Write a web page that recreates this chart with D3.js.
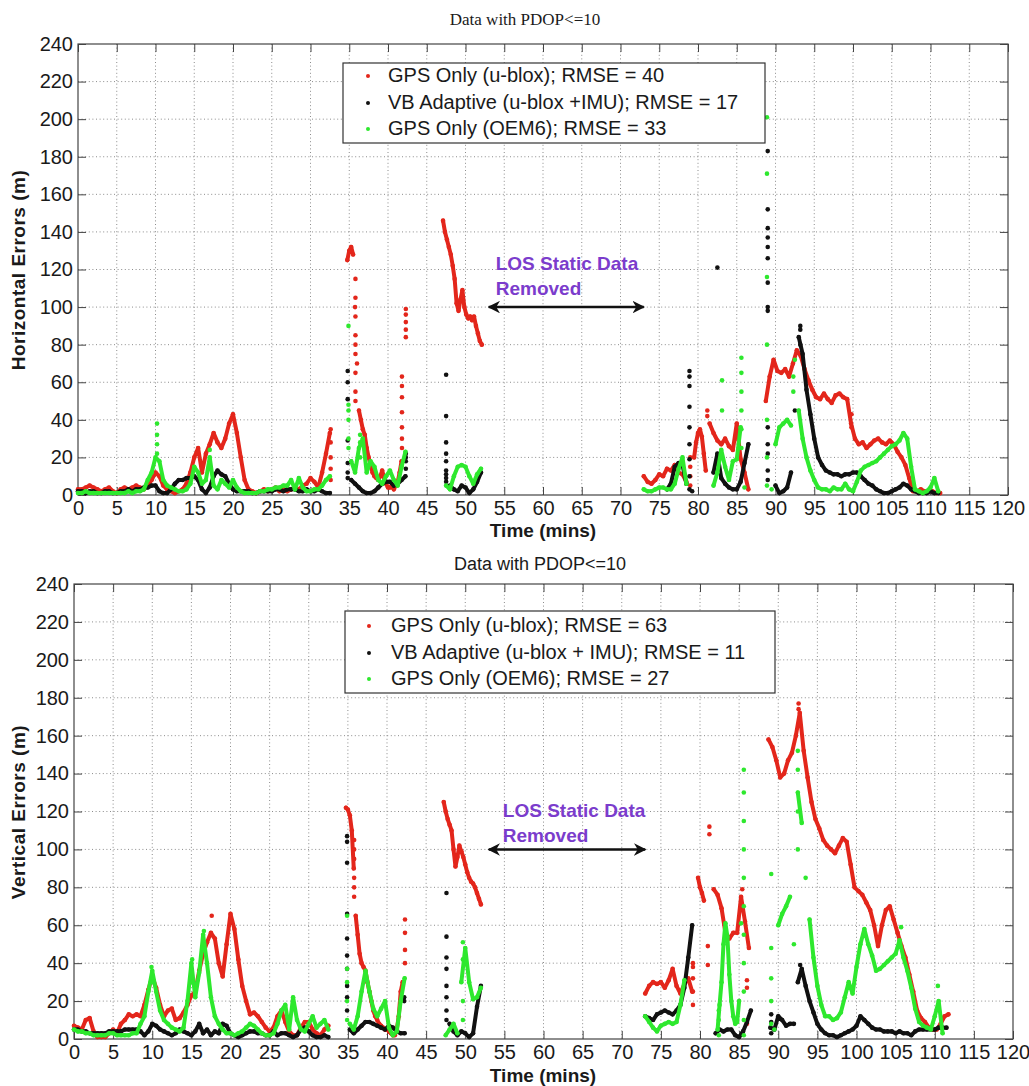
<!DOCTYPE html>
<html>
<head>
<meta charset="utf-8">
<script src="https://d3js.org/d3.v7.min.js"></script>
<style>
body { margin: 0; background: #fff; }
svg text { font-family: "Liberation Sans", Arial, sans-serif; fill: #1a1a1a; }
.grid line { stroke: #8c8c8c; stroke-dasharray: 1,2.6; stroke-width: 1; }
.tick line { stroke: #444; }
</style>
</head>
<body>
<svg width="1029" height="1086"></svg>
<script>
// axis ticks
const timeTicks = [0,5,10,15,20,25,30,35,40,45,50,55,60,65,70,75,80,85,90,95,100,105,110,115,120];
const errTicks = [0,20,40,60,80,100,120,140,160,180,200,220,240];

// series: segments of [start time (mins), sample step (mins), values (m)]
// a step of 0 marks a vertical streak of samples at one instant
const hRed = [
  [0, 0.5, [3,3,4,5,4,3,2,3,4,2,1,3,4,3,4,5,4,3,5,8,12,10,5,3,2,1,2,3,6,12,20,25,12,22,27,33,28,25,30,38,43,33,20,8,3,2,1,2,3,2,3,4,2,3,2,3,4,3,5,6,9,7,4,12,22,33]],
  [32.6, 0, [8,14,20,28,35]],
  [34.75, 0.25, [125,130,132,128,100,70,45,40,35,32,25,20,16,12,10,9,8,10,13,9,6,4,4,5,3,5,7,12,18]],
  [35.8, 0, [115,105,95,85,80,75,65,55,50]],
  [41.8, 0, [25,30,36,44,52,58,63]],
  [42.3, 0, [84,88,92,96,99]],
  [47.1, 0.25, [146,140,136,132,128,122,115,102,98,104,109,100,96,94,95,93,95,90,86,82,80]],
  [73, 0.5, [10,7,6,8,11,10,14,13,16,12,11,7]],
  [79, 0, [5,10,15,20]],
  [79.5, 0.25, [20,28,33,35,31,22,13]],
  [81.2, 0, [42,45]],
  [81.5, 0.5, [38,33,29,27,30,26,24,38,19,12,3]],
  [88.75, 0.5, [50,63,72,66,65,67,63,70,77,74,67,61,56,52,51,54,51,49,53,54,52,51,38,30,27,28,25,27,29,30,28,27,29,27,23,20,16,9,2,2,3,2,2,2,1,1]],
  [99.8, 0, [43,36]]
];
const hBlack = [
  [0, 0.5, [2,2,1,2,2,1,1,2,2,1,1,2,2,3,2,3,3,4,4,5,5,2,1,1,3,6,8,8,9,9,10,8,3,1,4,10,13,11,10,6,3,2,2,2,2,1,1,2,2,2,2,3,3,2,3,3,3,2,2,3,2,2,3,2,1,1]],
  [34.8, 0, [66,60,51,29,17,12,9]],
  [35.25, 0.5, [8,6,4,2,1,1,2,4,6,7,7,5,6,8,10]],
  [42.3, 0, [14,18,22,20]],
  [47.5, 0, [64,42,28,22,18,13,11,9,7]],
  [48, 0.5, [5,3,2,5,4,1,3,7,12]],
  [76, 0.5, [3,6,15,17,16,6]],
  [78.9, 0, [3,10,19,27,36,47,58,63,66]],
  [79.25, 0, [2]],
  [82, 0.5, [12,22,9,6,4,3,3,7,17,27]],
  [82.5, 0, [121]],
  [89, 0, [183,152,142,137,132,126,113,100,98,36,27,22,13,8]],
  [90, 0.5, [5,1,2,4,12,45,84,75,56,43,30,20,16,13,12,11,11,10,11,11,12,12,10,8,6,5,3,2,1,1,2,3,4,6,5,3,2,1,1,1,2,1,1]],
  [93.2, 0, [90,88,80]]
];
const hGreen = [
  [0, 0.5, [1,1,2,1,1,1,1,1,1,1,1,1,1,2,1,2,2,3,8,12,20,18,8,5,4,3,2,2,3,6,15,12,6,8,20,5,3,8,6,4,8,4,2,1,1,1,1,2,2,3,3,4,4,5,5,8,3,9,4,2,2,3,3,5,8,10]],
  [10.2, 0, [38,32,27,22]],
  [17, 0, [24,15]],
  [34.9, 0, [90,48,45,40,30,25]],
  [35.25, 0.5, [18,12,25,30,12,18,15,8,6,10,13,8,5,15,23]],
  [36.4, 0, [32,28,20]],
  [47.5, 0.5, [5,3,10,15,16,15,10,6,11,14]],
  [73, 0.5, [3,2,2,3,4,4,3,3,6,14,20,6]],
  [82, 0.5, [5,12,24,15,8,18,19,36,4]],
  [83.1, 0, [61,45]],
  [85.6, 0, [73,65,55,45,35,25]],
  [88.9, 0, [201,171,116,80,40,20,5]],
  [89.5, 0.5, [3,27,36,38,40,37,72,45,30,20,13,8,4,3,3,2,4,3,3,6,3,2,7,13,15,16,17,18,20,22,24,26,27,29,33,30,15,3,2,1,2,4,9,2]],
  [92.3, 0, [63,55]]
];
const vRed = [
  [0, 0.5, [7,6,5,10,11,4,1,1,1,3,5,3,8,10,13,12,13,12,18,26,33,27,18,12,15,16,10,11,14,18,23,25,36,45,51,56,53,40,33,50,66,58,42,28,20,13,14,12,9,6,4,6,12,15,9,4,2,2,6,9,9,5,3,2,5,7]],
  [17.6, 0, [65]],
  [34.75, 0.25, [122,121,118,110,90,65,55,45,40,38,36,30,25,20,15,12,10,8,7,6,5,5,4,3,2,2,5,12,25,30]],
  [35.8, 0, [105,100,95,85,80,75]],
  [42.3, 0, [40,47,56,63]],
  [47.25, 0.25, [125,120,116,113,110,100,91,96,102,99,96,92,88,85,83,82,80,77,74,71]],
  [73, 0.5, [24,28,30,29,30,27,31,37,28,24,29,32,25]],
  [79.1, 0, [18,25,32,38,40]],
  [79.75, 0.25, [85,80,77,73]],
  [81, 0, [49,39]],
  [81.2, 0, [112,108]],
  [81.75, 0.5, [79,76,69,56,53,56,56,75,62,48]],
  [85.4, 0, [79,70]],
  [86, 0, [31,27,8]],
  [88.75, 0.5, [158,154,147,138,140,147,151,160,172,152,138,125,116,111,105,102,100,98,102,106,104,92,80,78,76,72,68,60,49,60,68,70,63,56,49,43,34,25,15,11,9,6,5,5,8,12,13]],
  [92.6, 0, [177,174]]
];
const vBlack = [
  [0, 0.5, [5,5,4,4,3,3,3,3,3,4,4,4,4,5,5,5,5,4,2,4,8,7,5,4,3,2,3,5,4,3,2,4,8,3,5,2,4,3,8,7,3,2,1,2,3,4,4,3,3,2,2,4,2,3,3,2,1,2,5,6,4,2,1,1,2,1]],
  [34.9, 0, [107,104,93,66,53,44,37,28,22,15]],
  [35.25, 0.5, [5,3,5,7,9,9,8,7,6,5,7,6,4,3,3]],
  [42.2, 0, [22,20]],
  [47.6, 0, [77,54,43,37,28,22,15,10]],
  [48, 0.5, [8,4,2,4,3,1,3,17,28]],
  [73, 0.5, [12,11,10,13,14,15,14,13,15,18,27,43,60]],
  [82, 0.5, [3,5,4,5,5,2,1,4,9,15]],
  [89.1, 0, [13,9,3]],
  [89, 0.5, [6,5,12,10,7,8,8,30,37,28,20,14,8,5,3,2,2,1,2,3,4,5,7,12,10,8,6,5,5,4,4,4,3,4,3,3,2,4,5,5,5,5,5,6,6,6]],
  [92.8, 0, [39]]
];
const vGreen = [
  [0, 0.5, [5,4,4,3,3,2,2,2,2,3,3,2,2,2,2,3,3,8,12,25,36,25,15,10,8,6,5,4,6,20,40,22,35,55,40,22,12,8,5,3,3,2,3,4,6,8,7,5,3,2,2,3,8,15,18,5,22,10,5,4,8,12,6,8,10,5]],
  [9.9, 0, [38,30]],
  [15.1, 0, [42,30]],
  [16.6, 0, [57,50]],
  [34.9, 0, [65,37,30,20,10]],
  [35.25, 0.5, [8,5,12,25,36,25,16,12,16,20,6,2,4,20,32]],
  [47.5, 0.5, [2,5,8,3,30,48,30,21,22,27]],
  [49.7, 0, [51,42,20,10]],
  [73, 0.5, [12,9,6,4,7,8,9,8,9,18,31]],
  [82.25, 0.25, [5,18,30,50,61,54,34,20,12,8,9,20,61]],
  [82.4, 0, [2,10,15]],
  [85.6, 0, [142,130,115,100,85,70,55,40,25,10,2]],
  [89.1, 0, [87,48,32,20,8]],
  [89.5, 0.5, [5,60,66,70,75,50,130,114,85,63,43,28,18,12,12,10,11,14,22,30,24,38,50,58,50,44,36,37,39,41,43,45,52,43,36,27,16,9,7,6,5,12,20,3]],
  [92.5, 0, [152,142,120,100]],
  [105.7, 0, [59]],
  [110.4, 0, [28]]
];

const seriesNames = ["GPS Only (u-blox)", "VB Adaptive (u-blox +IMU)", "GPS Only (OEM6)"];
const seriesNamesV = ["GPS Only (u-blox)", "VB Adaptive (u-blox + IMU)", "GPS Only (OEM6)"];
const rmseH = [40, 17, 33];
const rmseV = [63, 11, 27];
const colors = ["#e3261b", "#111111", "#2ee82e"];

function expand(seg) {
  const [t0, dt, vals] = seg;
  return vals.map((v, i) => ({t: t0 + i * dt, v: v}));
}

const svg = d3.select("svg");
const defs = svg.append("defs");
defs.append("marker")
  .attr("id", "arrowhead")
  .attr("viewBox", "0 0 10 10")
  .attr("refX", 9).attr("refY", 5)
  .attr("markerWidth", 5).attr("markerHeight", 5)
  .attr("orient", "auto-start-reverse")
  .append("path")
  .attr("d", "M0,0 L10,5 L0,10 L3,5 z")
  .attr("fill", "#111");

const panels = [
  {left: 78, right: 1008, top: 44, bottom: 495,
   title: "Data with PDOP<=10", titleX: 525, titleY: 25, titleFont: "'Liberation Serif', 'Times New Roman', serif", titleSize: 17,
   xlabelY: 537, ylabel: "Horizontal Errors (m)", ylabelX: 25, ylabelY: 270,
   data: [hRed, hBlack, hGreen], names: seriesNames, rmse: rmseH,
   legend: {x: 343, y: 63, w: 422, h: 80, textX: 388, markX: 368, rows: [82, 109, 135]},
   note: {t: 53.9, v1: 119.7, v2: 106.4, a0: 53, a1: 73, av: 100}},
  {left: 74, right: 1013, top: 584, bottom: 1039,
   title: "Data with PDOP<=10", titleX: 540, titleY: 570, titleFont: "'Liberation Sans', Arial, sans-serif", titleSize: 18,
   xlabelY: 1082, ylabel: "Vertical Errors (m)", ylabelX: 25, ylabelY: 812,
   data: [vRed, vBlack, vGreen], names: seriesNamesV, rmse: rmseV,
   legend: {x: 345, y: 611, w: 430, h: 82, textX: 391, markX: 369, rows: [632, 659, 685]},
   note: {t: 54.8, v1: 117.3, v2: 104, a0: 53, a1: 73, av: 100}}
];

panels.forEach(p => {
  const x = d3.scaleLinear().domain([0, 120]).range([p.left, p.right]);
  const y = d3.scaleLinear().domain([0, 240]).range([p.bottom, p.top]);
  const g = svg.append("g");

  // dotted grid
  const grid = g.append("g").attr("class", "grid");
  grid.selectAll(".gx").data(timeTicks.slice(1, -1)).enter().append("line")
    .attr("x1", d => x(d)).attr("x2", d => x(d)).attr("y1", p.top).attr("y2", p.bottom);
  grid.selectAll(".gy").data(errTicks.slice(1, -1)).enter().append("line")
    .attr("x1", p.left).attr("x2", p.right).attr("y1", d => y(d)).attr("y2", d => y(d));

  // axes with inward ticks on all sides
  const fontSize = 20;
  g.append("g").attr("transform", `translate(0,${p.bottom})`)
    .call(d3.axisBottom(x).tickValues(timeTicks).tickSizeInner(-8).tickSizeOuter(0).tickPadding(6))
    .call(a => a.select(".domain").remove())
    .selectAll("text").style("font-size", fontSize + "px");
  g.append("g").attr("transform", `translate(0,${p.top})`)
    .call(d3.axisTop(x).tickValues(timeTicks).tickSizeInner(-8).tickSizeOuter(0).tickFormat(""))
    .call(a => a.select(".domain").remove());
  g.append("g").attr("transform", `translate(${p.left},0)`)
    .call(d3.axisLeft(y).tickValues(errTicks).tickSizeInner(-8).tickSizeOuter(0).tickPadding(5))
    .call(a => a.select(".domain").remove())
    .selectAll("text").style("font-size", fontSize + "px");
  g.append("g").attr("transform", `translate(${p.right},0)`)
    .call(d3.axisRight(y).tickValues(errTicks).tickSizeInner(-8).tickSizeOuter(0).tickFormat(""))
    .call(a => a.select(".domain").remove());

  g.append("rect")
    .attr("x", p.left).attr("y", p.top)
    .attr("width", p.right - p.left).attr("height", p.bottom - p.top)
    .attr("fill", "none").attr("stroke", "#444").attr("stroke-width", 1.2);

  // scatter series, plotted in legend order; dense 1 Hz samples merge into bands,
  // so consecutive samples are joined by a thick stroke unless the jump is large
  const band = d3.line().x(d => x(d.t)).y(d => y(d.v));
  p.data.forEach((segs, k) => {
    const sg = g.append("g");
    segs.filter(s => s[1] > 0).forEach(s => {
      const pts = expand(s);
      let run = [pts[0]];
      const runs = [];
      for (let i = 1; i < pts.length; i++) {
        if (Math.abs(y(pts[i].v) - y(pts[i - 1].v)) > 40) { runs.push(run); run = []; }
        run.push(pts[i]);
      }
      runs.push(run);
      runs.filter(r => r.length > 1).forEach(r => {
        sg.append("path").attr("d", band(r))
          .attr("fill", "none").attr("stroke", colors[k]).attr("stroke-width", 4)
          .attr("stroke-linejoin", "round").attr("stroke-linecap", "round");
      });
    });
    sg.selectAll("circle").data(segs.flatMap(expand)).enter().append("circle")
      .attr("cx", d => x(d.t)).attr("cy", d => y(d.v))
      .attr("r", 2.3).attr("fill", colors[k]);
  });

  // annotation
  g.append("text").attr("x", x(p.note.t)).attr("y", y(p.note.v1))
    .style("font-size", "19px").style("font-weight", "bold").style("fill", "#7b3ccc")
    .text("LOS Static Data");
  g.append("text").attr("x", x(p.note.t)).attr("y", y(p.note.v2))
    .style("font-size", "19px").style("font-weight", "bold").style("fill", "#7b3ccc")
    .text("Removed");
  g.append("line")
    .attr("x1", x(p.note.a0)).attr("x2", x(p.note.a1))
    .attr("y1", y(p.note.av)).attr("y2", y(p.note.av))
    .attr("stroke", "#111").attr("stroke-width", 2.5)
    .attr("marker-start", "url(#arrowhead)").attr("marker-end", "url(#arrowhead)");

  // legend
  const L = p.legend;
  const lg = g.append("g");
  lg.append("rect").attr("x", L.x).attr("y", L.y).attr("width", L.w).attr("height", L.h)
    .attr("fill", "#fff").attr("stroke", "#333").attr("stroke-width", 1.2);
  p.names.forEach((name, k) => {
    lg.append("circle").attr("cx", L.markX).attr("cy", L.rows[k] - 6).attr("r", 2).attr("fill", colors[k]);
    lg.append("text").attr("x", L.textX).attr("y", L.rows[k])
      .style("font-size", "20px").text(`${name}; RMSE = ${p.rmse[k]}`);
  });

  // titles and labels
  svg.append("text").attr("x", p.titleX).attr("y", p.titleY).attr("text-anchor", "middle")
    .style("font-family", p.titleFont).style("font-size", p.titleSize + "px").text(p.title);
  svg.append("text").attr("x", 543).attr("y", p.xlabelY).attr("text-anchor", "middle")
    .style("font-size", "19px").style("font-weight", "bold").text("Time (mins)");
  svg.append("text").attr("transform", `translate(${p.ylabelX},${p.ylabelY}) rotate(-90)`)
    .attr("text-anchor", "middle").style("font-size", "19px").style("font-weight", "bold")
    .style("letter-spacing", "0.5px").text(p.ylabel);
});
</script>
</body>
</html>
